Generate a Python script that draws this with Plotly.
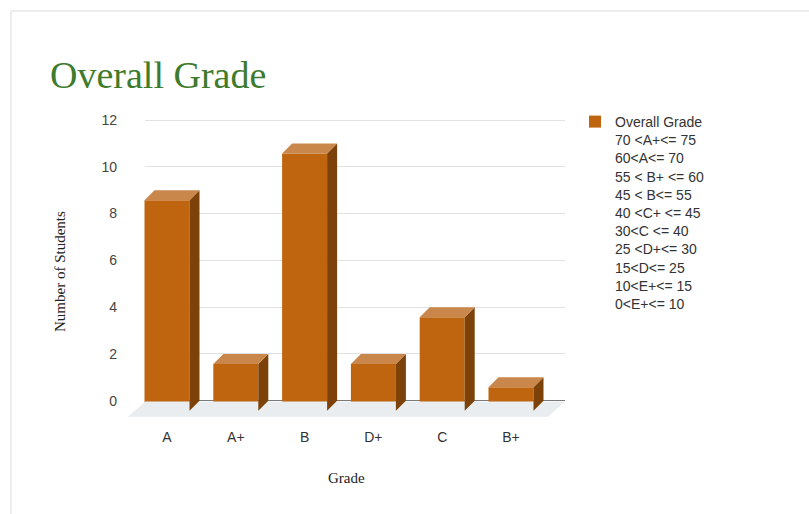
import plotly.graph_objects as go

# ---------------- data ----------------
grades = ["A", "A+", "B", "D+", "C", "B+"]
students = [9, 2, 11, 2, 4, 1]
y_ticks = [0, 2, 4, 6, 8, 10, 12]
series_name = "Overall Grade"
grade_ranges = ["70 <A+<= 75", "60<A<= 70", "55 < B+ <= 60", "45 < B<= 55",
                "40 <C+ <= 45", "30<C <= 40", "25 <D+<= 30", "15<D<= 25",
                "10<E+<= 15", "0<E+<= 10"]
chart_title = "Overall Grade"
x_title = "Grade"
y_title = "Number of Students"

# ---------------- geometry (pixels) ----------------
W, H = 809, 514
plot_top, plot_bot = 100, 420
grid_left, grid_right = 145, 565
bars_left, bars_right = 120, 580
y0_px, ytop_px = 400.7, 120.0          # pixel rows of the 0 and top gridlines
u = (y0_px - ytop_px) / y_ticks[-1]     # px per y unit
ymax = y_ticks[-1] + (ytop_px - plot_top) / u
ymin = ymax - (plot_bot - plot_top) / u
first_center_px, pitch = 167.0, 68.8
xmin = -(first_center_px - bars_left) / pitch
xmax = xmin + (bars_right - bars_left) / pitch
bw = 45.0 / pitch                       # bar width in x units
ddx = 10.0 / pitch                      # depth offset (x units)
ddy = 10.0 / u                          # depth offset (y units)

FRONT = "#BF650F"
TOP = "#C9874C"
SIDE = "#7C4209"
FLOOR = "#E9EDEF"

xs = list(range(len(grades)))

# ---------------- polygons derived from data ----------------
top_x, top_y, side_x, side_y = [], [], [], []
for x, v in zip(xs, students):
    l, r = x - bw / 2, x + bw / 2
    top_x += [l, r, r + ddx, l + ddx, l, None]
    top_y += [v - ddy, v - ddy, v, v, v - ddy, None]
    side_x += [r, r + ddx, r + ddx, r, r, None]
    side_y += [-ddy, 0, v, v - ddy, -ddy, None]

gl = (grid_left - first_center_px) / pitch
gr = (grid_right - first_center_px) / pitch
fdx, fdy = 17.0 / pitch, 16.0 / u
floor_x = [gl, gr, gr - fdx, gl - fdx, gl]
floor_y = [-0.03, -0.03, -fdy, -fdy, -0.03]

def esc(s):
    return s.replace("&", "&amp;").replace("<", "&lt;").replace(">", "&gt;")

legend_text = esc(series_name) + "<br>" + "<br>".join(esc(s) for s in grade_ranges)

fig = go.Figure()
# dummy trace for grid subplot
fig.add_trace(go.Scatter(x=[], y=[], xaxis="x", yaxis="y", showlegend=False, hoverinfo="skip"))
fig.add_trace(go.Scatter(x=floor_x, y=floor_y, xaxis="x2", yaxis="y2", mode="lines",
                         fill="toself", fillcolor=FLOOR, line=dict(width=0),
                         showlegend=False, hoverinfo="skip"))
fig.add_trace(go.Scatter(x=side_x, y=side_y, xaxis="x2", yaxis="y2", mode="lines",
                         fill="toself", fillcolor=SIDE, line=dict(width=0, color=SIDE),
                         showlegend=False, hoverinfo="skip"))
fig.add_trace(go.Bar(x=xs, y=students, base=-ddy, width=bw, xaxis="x2", yaxis="y2",
                     marker=dict(color=FRONT, line=dict(width=0)),
                     name=legend_text, showlegend=True))
fig.add_trace(go.Scatter(x=top_x, y=top_y, xaxis="x2", yaxis="y2", mode="lines",
                         fill="toself", fillcolor=TOP, line=dict(width=0, color=TOP),
                         showlegend=False, hoverinfo="skip"))

ydom = [1 - plot_bot / H, 1 - plot_top / H]
fig.update_layout(
    width=W, height=H,
    margin=dict(l=0, r=0, t=0, b=0),
    paper_bgcolor="white", plot_bgcolor="rgba(0,0,0,0)",
    xaxis=dict(domain=[grid_left / W, grid_right / W], range=[0, 1], visible=False,
               anchor="y", fixedrange=True),
    yaxis=dict(domain=ydom, range=[ymin, ymax], tickvals=y_ticks, anchor="x",
               showgrid=True, gridcolor="#E2E2E2", gridwidth=1,
               zeroline=True, zerolinecolor="#7A7A7A", zerolinewidth=1,
               showline=False, ticks="", ticklabelstandoff=27,
               tickfont=dict(family="Liberation Sans, Arial", size=14, color="#444444"),
               fixedrange=True),
    xaxis2=dict(domain=[bars_left / W, bars_right / W], range=[xmin, xmax], anchor="y2",
                tickvals=xs, ticktext=grades, showgrid=False, zeroline=False,
                showline=False, ticks="", ticklabelstandoff=7,
                tickfont=dict(family="Liberation Sans, Arial", size=14, color="#333333"),
                fixedrange=True),
    yaxis2=dict(domain=ydom, range=[ymin, ymax], anchor="x2", visible=False,
                fixedrange=True),
    showlegend=True,
    legend=dict(x=575 / W, y=1 - 106 / H, xanchor="left", yanchor="top",
                valign="top", bgcolor="rgba(0,0,0,0)",
                font=dict(family="Liberation Sans, Arial", size=14, color="#333333")),
    annotations=[
        dict(text=chart_title, x=48 / W, y=1 - 75 / H, xref="paper", yref="paper",
             xanchor="left", yanchor="middle", showarrow=False,
             font=dict(family="Liberation Serif, Times New Roman", size=38, color="#3E7B2C")),
        dict(text=y_title, x=60 / W, y=1 - 271 / H, xref="paper", yref="paper",
             xanchor="center", yanchor="middle", showarrow=False, textangle=-90,
             font=dict(family="Liberation Serif, Times New Roman", size=15, color="#222222")),
        dict(text=x_title, x=346 / W, y=1 - 478 / H, xref="paper", yref="paper",
             xanchor="center", yanchor="middle", showarrow=False,
             font=dict(family="Liberation Serif, Times New Roman", size=15, color="#222222")),
    ],
    shapes=[
        dict(type="line", xref="paper", yref="paper", x0=11 / W, x1=11 / W,
             y0=1 - 11 / H, y1=0, line=dict(color="#EDEDED", width=2)),
        dict(type="line", xref="paper", yref="paper", x0=11 / W, x1=1,
             y0=1 - 11 / H, y1=1 - 11 / H, line=dict(color="#EDEDED", width=2)),
    ],
)

fig.write_html("out.html", config={"displayModeBar": False},
               post_script="document.body.style.margin='0px';document.body.style.padding='0px';")
